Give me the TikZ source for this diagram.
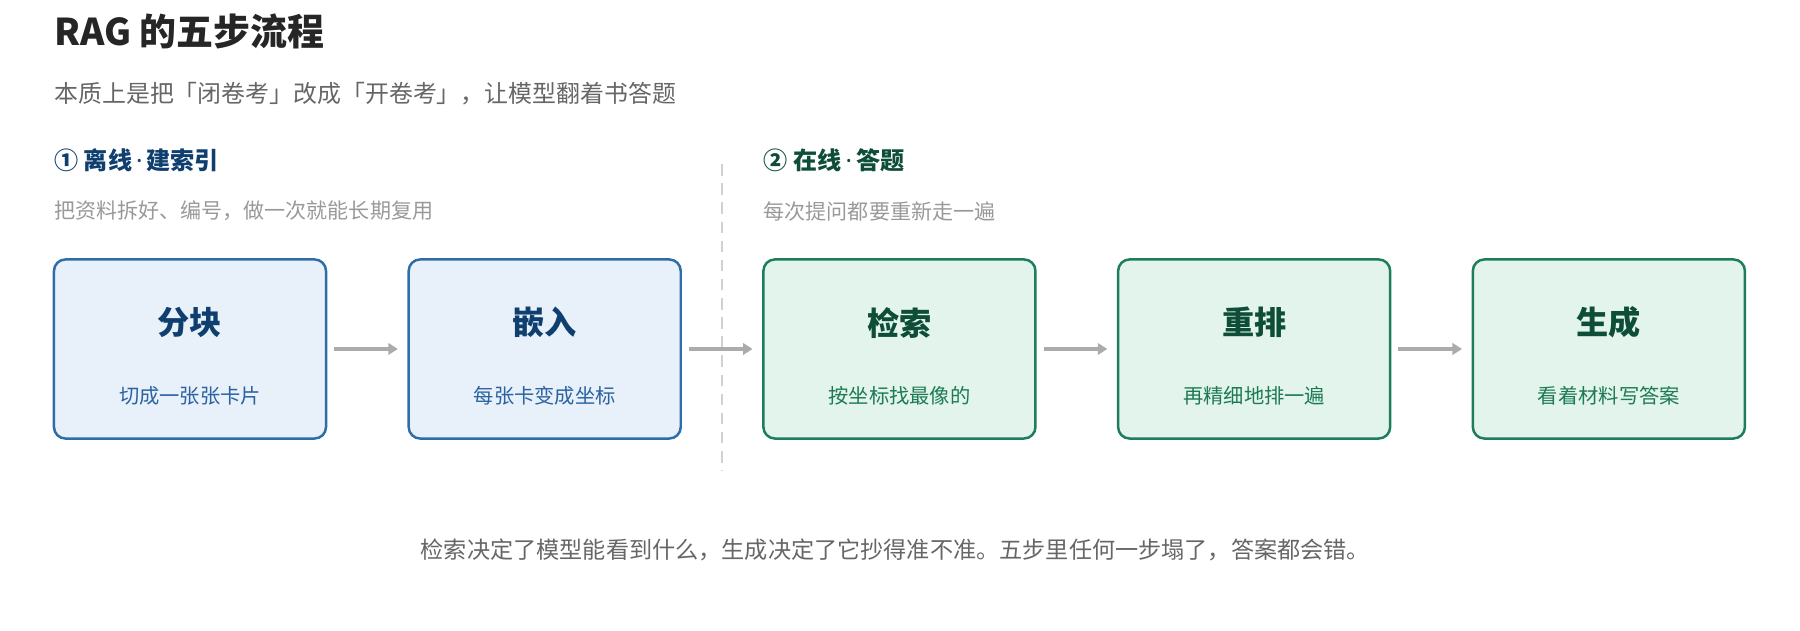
\documentclass[tikz,border=0pt]{standalone}
\usepackage{fontspec}
\setmainfont{Noto Sans CJK SC}
\newfontfamily\latinfont{Noto Sans}
\usetikzlibrary{positioning, arrows.meta}
\definecolor{blueline}{HTML}{2E6DA8}
\definecolor{bluefill}{HTML}{E8F0FA}
\definecolor{bluedark}{HTML}{0F3F6E}
\definecolor{bluetext}{HTML}{2A63A0}
\definecolor{greenline}{HTML}{1E7D5C}
\definecolor{greenfill}{HTML}{E2F4EB}
\definecolor{greendark}{HTML}{0E4D37}
\definecolor{greentext}{HTML}{1D7A55}
\newcommand{\middot}{{\latinfont\,·\,}}
\begin{document}
\begin{tikzpicture}[
        x=0.6pt, y=-0.6pt,
        every node/.style={inner sep=0pt},
        stepbox/.style={draw, line width=1.3pt, rounded corners=6pt, minimum width=142.2pt, minimum height=93.6pt},
        bluebox/.style={stepbox, draw=blueline, fill=bluefill},
        greenbox/.style={stepbox, draw=greenline, fill=greenfill},
        steptitle/.style={font=\fontsize{16.8}{20}\selectfont\bfseries},
        stepsub/.style={font=\fontsize{10.6}{13}\selectfont},
        flow/.style={draw=black!33, line width=1.6pt, -{Triangle[length=5pt,width=6pt]}}
    ]
        \useasboundingbox (0,0) rectangle (1568,549);

        % --- Header ---
        \node[anchor=west, font=\fontsize{19.3}{22}\selectfont\bfseries, text=black!85] (title) at (47,27) {RAG 的五步流程};
        \node[anchor=west, font=\fontsize{12.5}{15}\selectfont, text=black!60] (subtitle) at (47,82) {本质上是把「闭卷考」改成「开卷考」，让模型翻着书答题};

        % --- Section labels ---
        \node[anchor=west, font=\fontsize{12.6}{15}\selectfont\bfseries, text=bluedark] (offline) at (47,140) {① 离线\middot 建索引};
        \node[anchor=west, font=\fontsize{11}{13}\selectfont, text=black!40] (offlinesub) at (47,184) {把资料拆好、编号，做一次就能长期复用};
        \node[anchor=west, font=\fontsize{12.6}{15}\selectfont\bfseries, text=greendark] (online) at (665,140) {② 在线\middot 答题};
        \node[anchor=west, font=\fontsize{11}{13}\selectfont, text=black!40] (onlinesub) at (665,184) {每次提问都要重新走一遍};

        % --- Divider ---
        \coordinate (divtop) at (629,143);
        \coordinate (divbot) at (629,410);
        \draw[black!18, line width=1pt, dash pattern=on 6pt off 4pt] (divtop) -- (divbot);

        % --- Steps ---
        \node[bluebox] (chunk) at (165.5,304) {};
        \node[bluebox] (embed) at (474.5,304) {};
        \node[greenbox] (retrieve) at (783.5,304) {};
        \node[greenbox] (rerank) at (1092.5,304) {};
        \node[greenbox] (generate) at (1401.5,304) {};

        \node[steptitle, text=bluedark] at (165.5,281) {分块};
        \node[stepsub, text=bluetext] at (165.5,345) {切成一张张卡片};
        \node[steptitle, text=bluedark] at (474.5,281) {嵌入};
        \node[stepsub, text=bluetext] at (474.5,345) {每张卡变成坐标};
        \node[steptitle, text=greendark] at (783.5,281) {检索};
        \node[stepsub, text=greentext] at (783.5,345) {按坐标找最像的};
        \node[steptitle, text=greendark] at (1092.5,281) {重排};
        \node[stepsub, text=greentext] at (1092.5,345) {再精细地排一遍};
        \node[steptitle, text=greendark] at (1401.5,281) {生成};
        \node[stepsub, text=greentext] at (1401.5,345) {看着材料写答案};

        % --- Arrows ---
        \draw[flow] ([xshift=3.6pt]chunk.east) -- ([xshift=-5pt]embed.west);
        \draw[flow] ([xshift=3.6pt]embed.east) -- ([xshift=-5pt]retrieve.west);
        \draw[flow] ([xshift=3.6pt]retrieve.east) -- ([xshift=-5pt]rerank.west);
        \draw[flow] ([xshift=3.6pt]rerank.east) -- ([xshift=-5pt]generate.west);

        % --- Footer ---
        \node[font=\fontsize{12.1}{14}\selectfont, text=black!60] (footer) at (780,479) {检索决定了模型能看到什么，生成决定了它抄得准不准。五步里任何一步塌了，答案都会错。};
    \end{tikzpicture}
\end{document}
